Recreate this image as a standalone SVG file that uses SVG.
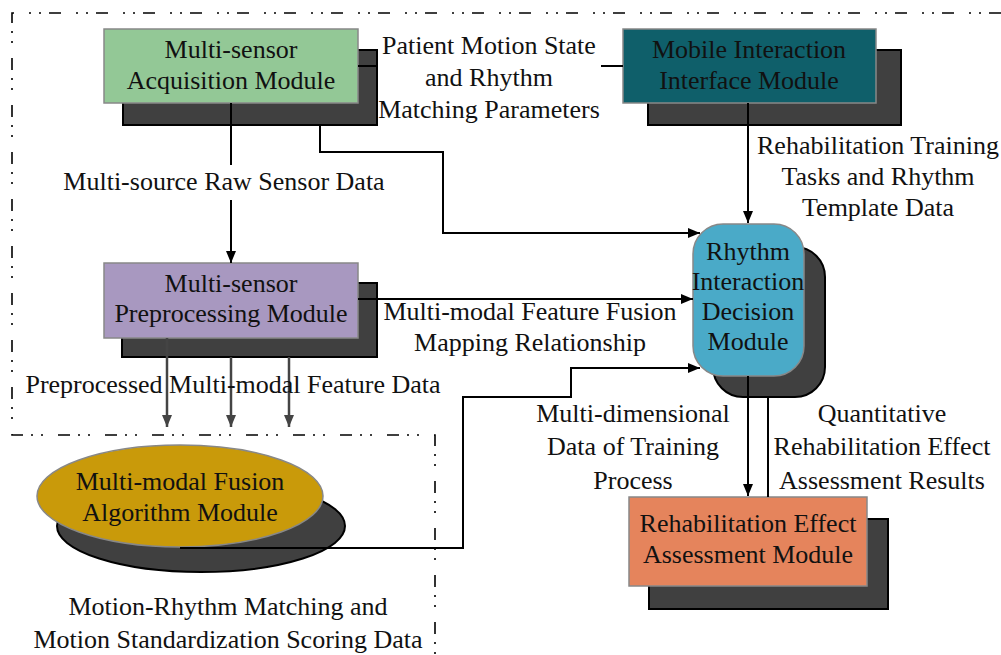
<svg xmlns="http://www.w3.org/2000/svg" width="1001" height="655" viewBox="0 0 1001 655">
<defs>
<marker id="ah" viewBox="0 0 12 10" refX="12" refY="5" markerWidth="12" markerHeight="10" markerUnits="userSpaceOnUse" orient="auto"><path d="M0,0 L12,5 L0,10 Z" fill="#000"/></marker>
<marker id="ahg" viewBox="0 0 12 10" refX="12" refY="5" markerWidth="12" markerHeight="10" markerUnits="userSpaceOnUse" orient="auto"><path d="M0,0 L12,5 L0,10 Z" fill="#444"/></marker>
</defs>
<style>
text{font-family:"Liberation Serif","Times New Roman",serif;font-size:26px;fill:#111;text-anchor:middle}
.sh{fill:#404040;stroke:#000;stroke-width:2}
.bx{stroke:#888;stroke-width:1.5}
.ln{fill:none;stroke:#000;stroke-width:2}
.gl{fill:none;stroke:#444;stroke-width:2.5}
.dd{fill:none;stroke:#000;stroke-width:1.6;stroke-dasharray:12 8 2 8 2 15}
</style>
<rect width="1001" height="655" fill="#fff"/>
<g id="border">
<path class="dd" d="M1001,13 L12,13 L12,435 L435,435 L435,655"/>
</g>
<g id="n-acq">
<rect class="sh" x="123" y="50" width="254" height="75"/>
<rect class="bx" x="104" y="29" width="254" height="74" fill="#93c896"/>
<text x="231" y="58">Multi-sensor</text>
<text x="231" y="89">Acquisition Module</text>
</g>
<g id="n-mob">
<rect class="sh" x="648" y="50" width="253" height="75"/>
<rect class="bx" x="623" y="29" width="253" height="74" fill="#0f5f6a"/>
<text x="749" y="58">Mobile Interaction</text>
<text x="749" y="89">Interface Module</text>
</g>
<g id="n-pre">
<rect class="sh" x="122" y="283" width="255" height="74"/>
<rect class="bx" x="104" y="263" width="254" height="75" fill="#a898c0"/>
<text x="231" y="292">Multi-sensor</text>
<text x="231" y="322">Preprocessing Module</text>
</g>
<g id="n-rhy">
<rect class="sh" x="713" y="247" width="112" height="150" rx="30"/>
<rect class="bx" x="693" y="224" width="111" height="152" rx="30" fill="#4aaac8"/>
<text x="748" y="260">Rhythm</text>
<text x="748" y="290">Interaction</text>
<text x="748" y="320">Decision</text>
<text x="748" y="350">Module</text>
</g>
<g id="n-fus">
<ellipse class="sh" cx="201" cy="526" rx="144" ry="46"/>
<ellipse class="bx" cx="180" cy="496" rx="143" ry="51" fill="#c99a0a"/>
<text x="180" y="490">Multi-modal Fusion</text>
<text x="180" y="521">Algorithm Module</text>
</g>
<g id="n-reh">
<rect class="sh" x="649" y="519" width="239" height="90"/>
<rect class="bx" x="629" y="497" width="238" height="89" fill="#e5845c"/>
<text x="748" y="532">Rehabilitation Effect</text>
<text x="748" y="563">Assessment Module</text>
</g>
<g id="connectors">
<path class="ln" d="M358,66 L378,66"/>
<path class="ln" d="M601,66 L623,66"/>
<path class="ln" d="M231,103 L231,165"/>
<path class="ln" d="M231,200 L231,263" marker-end="url(#ah)"/>
<path class="ln" d="M320,125 L320,152 L443,152 L443,233 L700,233" marker-end="url(#ah)"/>
<path class="ln" d="M748,103 L748,223" marker-end="url(#ah)"/>
<path class="ln" d="M358,299 L693,299" marker-end="url(#ah)"/>
<path class="gl" d="M167,338 L167,427" marker-end="url(#ahg)"/>
<path class="gl" d="M231,357 L231,427" marker-end="url(#ahg)"/>
<path class="gl" d="M289,357 L289,427" marker-end="url(#ahg)"/>
<path class="ln" d="M180,548 L463,548 L463,397 L571,397 L571,368 L700,368" marker-end="url(#ah)"/>
<path class="ln" d="M748,376 L748,496" marker-end="url(#ah)"/>
<path class="ln" d="M768,397 L768,497"/>
</g>
<g id="labels">
<text x="489" y="54">Patient Motion State</text>
<text x="489" y="86">and Rhythm</text>
<text x="489" y="118">Matching Parameters</text>
<text x="878" y="154">Rehabilitation Training</text>
<text x="878" y="185">Tasks and Rhythm</text>
<text x="878" y="216">Template Data</text>
<text x="224" y="190">Multi-source Raw Sensor Data</text>
<text x="530" y="320">Multi-modal Feature Fusion</text>
<text x="530" y="351">Mapping Relationship</text>
<text x="233" y="393">Preprocessed Multi-modal Feature Data</text>
<text x="633" y="422">Multi-dimensional</text>
<text x="633" y="455">Data of Training</text>
<text x="633" y="489">Process</text>
<text x="882" y="422">Quantitative</text>
<text x="882" y="455">Rehabilitation Effect</text>
<text x="882" y="489">Assessment Results</text>
<text x="228" y="615">Motion-Rhythm Matching and</text>
<text x="228" y="648">Motion Standardization Scoring Data</text>
</g>
</svg>
